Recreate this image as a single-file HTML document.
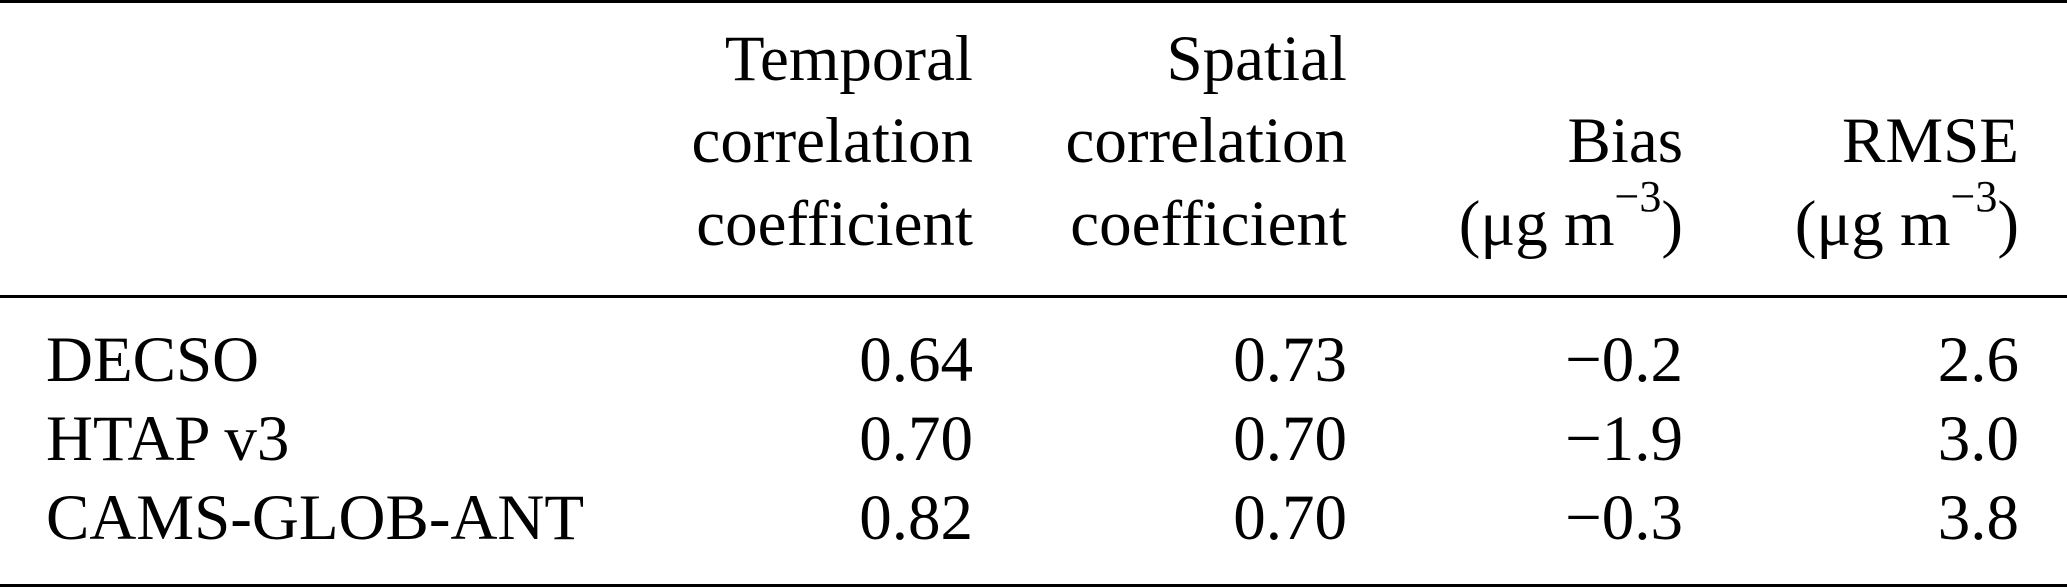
<!DOCTYPE html>
<html><head><meta charset="utf-8"><style>
html,body{margin:0;padding:0;background:#fff;}
svg{display:block;}
text{font-family:"Liberation Serif",serif;font-size:65px;fill:#000;}
</style></head><body>
<svg width="2067" height="588" viewBox="0 0 2067 588">
<rect x="0" y="0" width="2067" height="3" fill="#000"/>
<rect x="0" y="295" width="2067" height="3" fill="#000"/>
<rect x="0" y="584" width="2067" height="3" fill="#000"/>
<g text-anchor="end">
<text x="973" y="80">Temporal</text><text x="973" y="162">correlation</text><text x="973" y="245">coefficient</text></g>
<g text-anchor="end">
<text x="1347" y="80">Spatial</text><text x="1347" y="162">correlation</text><text x="1347" y="245">coefficient</text></g>
<g text-anchor="end">
<text x="1683" y="162">Bias</text>
<text x="1683" y="245">(μg m<tspan font-size="44" dy="-34">−3</tspan><tspan dy="34">)</tspan></text></g>
<g text-anchor="end">
<text x="2019" y="162">RMSE</text>
<text x="2019" y="245">(μg m<tspan font-size="44" dy="-34">−3</tspan><tspan dy="34">)</tspan></text></g>
<g>
<text x="46" y="381">DECSO</text>
<text x="973" y="381" text-anchor="end">0.64</text><text x="1347" y="381" text-anchor="end">0.73</text>
<text x="1683" y="381" text-anchor="end">−0.2</text><text x="2019" y="381" text-anchor="end">2.6</text></g>
<g>
<text x="46" y="460">HTAP v3</text>
<text x="973" y="460" text-anchor="end">0.70</text><text x="1347" y="460" text-anchor="end">0.70</text>
<text x="1683" y="460" text-anchor="end">−1.9</text><text x="2019" y="460" text-anchor="end">3.0</text></g>
<g>
<text x="46" y="539">CAMS-GLOB-ANT</text>
<text x="973" y="539" text-anchor="end">0.82</text><text x="1347" y="539" text-anchor="end">0.70</text>
<text x="1683" y="539" text-anchor="end">−0.3</text><text x="2019" y="539" text-anchor="end">3.8</text></g>
</svg>
</body></html>
